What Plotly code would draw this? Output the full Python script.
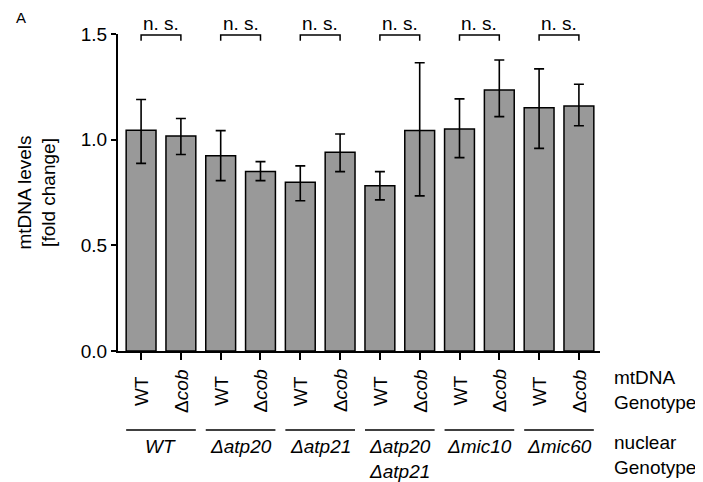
import plotly.graph_objects as go

# ---- data ----
mt_genotypes = ["WT", "Δ<i>cob</i>"] * 6
nuclear_genotypes = ["<i>WT</i>", "<i>Δatp20</i>", "<i>Δatp21</i>",
                     "<i>Δatp20</i><br><i>Δatp21</i>", "<i>Δmic10</i>", "<i>Δmic60</i>"]
means = [1.045, 1.017, 0.924, 0.849, 0.798, 0.940, 0.782, 1.043, 1.051, 1.235, 1.151, 1.159]
upper = [1.190, 1.100, 1.043, 0.896, 0.876, 1.027, 0.849, 1.364, 1.193, 1.377, 1.335, 1.262]
lower = [0.888, 0.930, 0.806, 0.806, 0.711, 0.849, 0.715, 0.734, 0.915, 1.109, 0.959, 1.066]
sig_labels = ["n. s."] * 6
y_ticks = [0.0, 0.5, 1.0, 1.5]

FONT = "Liberation Sans, Arial, sans-serif"
FS = 19
PLOT_H = 317

x = list(range(len(means)))
err_plus = [u - m for u, m in zip(upper, means)]
err_minus = [m - l for m, l in zip(means, lower)]

fig = go.Figure()
fig.add_trace(go.Bar(
    x=x, y=means, width=0.75,
    marker=dict(color="#999999", line=dict(color="black", width=1.5)),
    error_y=dict(type="data", symmetric=False, array=err_plus, arrayminus=err_minus,
                 color="black", thickness=1.6, width=5),
    showlegend=False,
))

annotations = []
shapes = []

# rotated mtDNA genotype labels
for i, lab in enumerate(mt_genotypes):
    annotations.append(dict(x=i, y=0, xref="x", yref="paper", text=lab, textangle=-90,
                            showarrow=False, xanchor="center", yanchor="middle", yshift=-40,
                            font=dict(family=FONT, size=FS, color="black")))

# nuclear genotype groups
for g, lab in enumerate(nuclear_genotypes):
    a, b = 2 * g, 2 * g + 1
    shapes.append(dict(type="line", xref="x", yref="paper", x0=a - 0.375, x1=b + 0.375,
                       y0=-79 / PLOT_H, y1=-79 / PLOT_H, line=dict(color="black", width=1.5)))
    annotations.append(dict(x=(a + b) / 2, y=0, xref="x", yref="paper", text=lab,
                            showarrow=False, xanchor="center", yanchor="top", yshift=-83,
                            font=dict(family=FONT, size=FS, color="black")))
    # significance brackets
    shapes.append(dict(type="path", xref="x", yref="y",
                       path=f"M {a},1.468 L {a},1.495 L {b},1.495 L {b},1.468",
                       line=dict(color="black", width=1.5)))
    annotations.append(dict(x=(a + b) / 2, y=1.5, xref="x", yref="y", text=sig_labels[g],
                            showarrow=False, xanchor="center", yanchor="bottom", yshift=-2,
                            font=dict(family=FONT, size=FS, color="black")))

# right side labels
annotations.append(dict(x=1, y=0, xref="paper", yref="paper", text="mtDNA<br>Genotype",
                        showarrow=False, xanchor="left", yanchor="middle", xshift=12, yshift=-39,
                        align="left", font=dict(family=FONT, size=FS, color="black")))
annotations.append(dict(x=1, y=0, xref="paper", yref="paper", text="nuclear<br>Genotype",
                        showarrow=False, xanchor="left", yanchor="middle", xshift=12, yshift=-104,
                        align="left", font=dict(family=FONT, size=FS, color="black")))
# y title
annotations.append(dict(x=0, y=0.5, xref="paper", yref="paper",
                        text="mtDNA levels<br>[fold change]", textangle=-90,
                        showarrow=False, xanchor="center", yanchor="middle", xshift=-82,
                        font=dict(family=FONT, size=FS, color="black")))
# panel letter
annotations.append(dict(x=0, y=1, xref="paper", yref="paper", text="A",
                        showarrow=False, xanchor="left", yanchor="middle", xshift=-104, yshift=17,
                        font=dict(family=FONT, size=15, color="black")))

# page body has an 8px margin, so the figure is 8px smaller and margins shifted accordingly
fig.update_layout(
    width=695, height=474,
    margin=dict(l=110, r=103, t=26, b=131),
    paper_bgcolor="white", plot_bgcolor="white",
    font=dict(family=FONT, size=FS, color="black"),
    xaxis=dict(range=[-0.58, 11.53], tickvals=x, showticklabels=False, ticks="outside",
               ticklen=7, tickwidth=1.5, tickcolor="black", showline=True, linecolor="black",
               linewidth=2, showgrid=False, zeroline=False, fixedrange=True),
    yaxis=dict(range=[0, 1.5], tickvals=y_ticks, tickformat=".1f", ticks="outside",
               ticklen=5, tickwidth=1.5, tickcolor="black", showline=True, linecolor="black",
               linewidth=2, showgrid=False, zeroline=False,
               tickfont=dict(family=FONT, size=FS, color="black")),
    annotations=annotations, shapes=shapes,
)

fig.write_html("out.html")
